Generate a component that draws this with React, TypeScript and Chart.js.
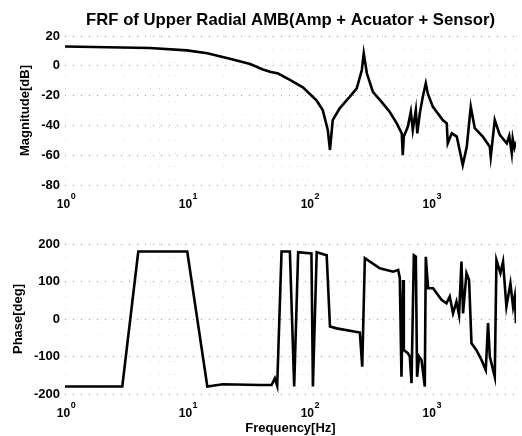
import React, { useEffect, useRef } from 'react';
import { Chart, registerables } from 'chart.js';

Chart.register(...registerables);

const TITLE = 'FRF of Upper Radial AMB(Amp + Acuator + Sensor)';
const MAG_TITLE = 'Magnitude[dB]';
const PHASE_TITLE = 'Phase[deg]';
const X_TITLE = 'Frequency[Hz]';

const decadeValues = [1, 10, 100, 1000];
const decadeBase = '10';
const decadeExponents = ['0', '1', '2', '3'];

const magFreq = [1, 4.97, 10, 14.7, 22.5, 33, 42, 48, 56, 69.9, 89.3, 116, 130, 143, 149, 157, 179, 217, 247, 272, 282, 299, 335, 404, 461, 526, 578, 589, 601, 648, 686, 712, 754, 775, 813, 860, 910, 945, 1038, 1254, 1352, 1378, 1487, 1634, 1829, 1973, 2128, 2295, 2670, 3048, 3104, 3348, 3680, 4199, 4400, 4614, 4700, 4850, 5000];
const magDb = [13, 12, 10.4, 8.4, 4.8, 1.2, -2.5, -4, -5.2, -9.5, -14.4, -23.4, -29.7, -43, -56.5, -36.4, -28.5, -20.7, -15.1, -2.8, 8.4, -5, -17.4, -25.2, -31, -38.6, -45.3, -59.9, -47.5, -40.9, -30.8, -43, -29.7, -45.3, -31.9, -20.7, -11.7, -18.5, -27.4, -36.4, -38.6, -52, -45.3, -47.5, -66.6, -54.3, -27.4, -41.9, -47.5, -54.3, -61, -36.4, -46.4, -52, -47, -58.7, -49, -55, -51];

const phaseFreq = [1, 2.95, 3.99, 10.06, 14.7, 19.7, 39.7, 49.5, 52.6, 55, 59.7, 69.9, 75.8, 81.7, 105, 108, 116, 140, 149, 169, 262, 274, 288, 382, 491, 540, 557, 575, 593, 601, 648, 673, 695, 726, 754, 772, 802, 839, 893, 910, 951, 1044, 1224, 1345, 1431, 1523, 1624, 1706, 1785, 1840, 1963, 2061, 2157, 2370, 2605, 2824, 2950, 3048, 3348, 3456, 3725, 3915, 4172, 4500, 4730, 4884, 5000];
const phaseDeg = [-180, -180, 180, 180, -180, -174, -176, -176, -158, -178, 180, 180, -180, 178, 175, -180, 178, 170, -20, -25, -36, -127, 162, 135, 126, 131, 110, -154, 104, -83, -91, -100, -171, 170, 166, -154, -100, -109, -180, 166, 82, 82, 51, 42, 60, 15, 46, 11, 153, 15, 122, 104, -65, -83, -109, -136, -11, -100, -154, 157, 122, 153, 33, 95, 33, 60, -11];

const magRange = { min: -80, max: 20, step: 20 };
const phaseRange = { min: -200, max: 200, step: 100 };
const freqRange = { min: 1, max: 5000 };

const FONT = '"Liberation Sans", Arial, Helvetica, sans-serif';

function logGridValues(min: number, max: number) {
  const out: number[] = [];
  for (let d = 1; d <= max; d *= 10) {
    for (let m = 1; m <= 9; m++) {
      const v = m * d;
      if (v >= min && v <= max) out.push(v);
    }
  }
  return out;
}

// Draws the decade tick labels of the x scale as "10" with a raised exponent.
const decadeLabelPlugin = {
  id: 'decadeLabels',
  afterDraw(chart: any) {
    const xs = chart.scales.x;
    const ctx = chart.ctx;
    const base = chart.chartArea.bottom;
    ctx.save();
    ctx.fillStyle = '#000';
    ctx.textBaseline = 'alphabetic';
    ctx.textAlign = 'left';
    decadeValues.forEach((v, i) => {
      const px = xs.getPixelForValue(v);
      ctx.font = `bold 12px ${FONT}`;
      const w1 = ctx.measureText(decadeBase).width;
      ctx.font = `bold 9px ${FONT}`;
      const w2 = ctx.measureText(decadeExponents[i]).width;
      const left = px - (w1 + w2) / 2 + 1;
      ctx.font = `bold 12px ${FONT}`;
      ctx.fillText(decadeBase, left, base + 22.5);
      ctx.font = `bold 9px ${FONT}`;
      ctx.fillText(decadeExponents[i], left + w1 + 0.5, base + 13.5);
    });
    ctx.restore();
  },
};

function makeConfig(opts: any) {
  const { freq, vals, range, yTitle, yTitlePad, withTitle, withXTitle, xHeight, padTop } = opts;
  return {
    type: 'line',
    data: {
      datasets: [
        {
          data: freq.map((f: number, i: number) => ({ x: f, y: vals[i] })),
          borderColor: '#000',
          borderWidth: 2.6,
          pointRadius: 0,
          tension: 0,
          fill: false,
        },
      ],
    },
    plugins: [decadeLabelPlugin],
    options: {
      animation: false,
      responsive: false,
      events: [],
      layout: { padding: { left: 0, right: 6, top: padTop, bottom: 0 } },
      plugins: {
        legend: { display: false },
        tooltip: { enabled: false },
        title: {
          display: withTitle,
          text: TITLE,
          fullSize: false,
          color: '#000',
          font: { family: FONT, size: 16.7, weight: 'bold' },
          padding: { top: 10, bottom: 6 },
        },
      },
      scales: {
        x: {
          type: 'logarithmic',
          min: freqRange.min,
          max: freqRange.max,
          afterBuildTicks: (s: any) => {
            s.ticks = logGridValues(freqRange.min, freqRange.max).map((v) => ({ value: v }));
          },
          afterFit: (s: any) => {
            s.height = xHeight;
          },
          ticks: { display: false },
          grid: { color: 'rgba(0,0,0,0.13)', lineWidth: 1, drawTicks: false },
          border: { display: false, dash: [1, 12] },
          title: {
            display: withXTitle,
            text: X_TITLE,
            color: '#000',
            font: { family: FONT, size: 13, weight: 'bold' },
            padding: { top: 0, bottom: 0 },
          },
        },
        y: {
          type: 'linear',
          min: range.min,
          max: range.max,
          afterFit: (s: any) => {
            s.width = 65;
          },
          ticks: {
            stepSize: range.step,
            padding: 5,
            color: '#000',
            font: { family: FONT, size: 13, weight: 'bold' },
          },
          grid: { color: 'rgba(0,0,0,0.4)', lineWidth: 1, drawTicks: false },
          border: { display: false, dash: [1, 7] },
          title: {
            display: true,
            text: yTitle,
            color: '#000',
            font: { family: FONT, size: 13, weight: 'bold' },
            padding: { top: yTitlePad, bottom: 0 },
          },
        },
      },
    },
  } as any;
}

function FrfPanel(props: any) {
  const ref = useRef<HTMLCanvasElement | null>(null);
  useEffect(() => {
    if (!ref.current) return;
    const chart = new Chart(ref.current, makeConfig(props));
    return () => chart.destroy();
  }, []);
  return (
    <canvas
      ref={ref}
      width={522}
      height={props.height}
      style={{ position: 'absolute', left: 0, top: props.top, width: 522, height: props.height }}
    />
  );
}

export default function App() {
  return (
    <div style={{ position: 'absolute', left: 0, top: 0, width: 522, height: 436, background: '#fff', overflow: 'hidden' }}>
      <FrfPanel
        top={0}
        height={210}
        xHeight={25}
        padTop={0}
        freq={magFreq}
        vals={magDb}
        range={magRange}
        yTitle={MAG_TITLE}
        yTitlePad={18}
        withTitle={true}
        withXTitle={false}
      />
      <FrfPanel
        top={210}
        height={226}
        xHeight={42}
        padTop={34}
        freq={phaseFreq}
        vals={phaseDeg}
        range={phaseRange}
        yTitle={PHASE_TITLE}
        yTitlePad={10.5}
        withTitle={false}
        withXTitle={true}
      />
    </div>
  );
}
